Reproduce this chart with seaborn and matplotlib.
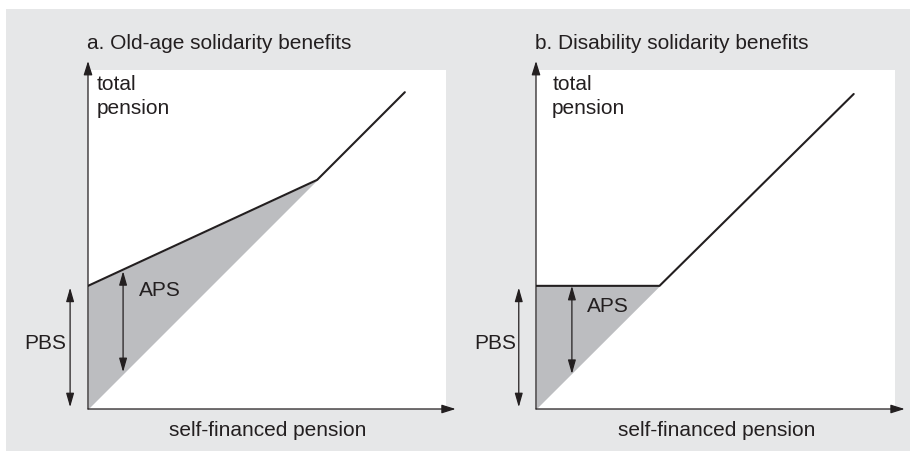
import matplotlib
matplotlib.use("Agg")
import matplotlib.pyplot as plt
import matplotlib.patches as mpatches
import seaborn as sns

# data (units: same scale on both axes)
pbs = 3.44
old_x = [0, 6.4, 8.85]
old_y = [pbs, 6.4, 8.85]
dis_x = [0, 3.44, 8.85]
dis_y = [pbs, pbs, 8.8]
titles = ["a. Old-age solidarity benefits", "b. Disability solidarity benefits"]

sns.set_theme(style="white")
plt.rcParams['font.family'] = ['Liberation Sans', 'DejaVu Sans']
plt.rcParams['text.color'] = "#231f20"

fig = plt.figure(figsize=(9.1, 4.52), dpi=100)
fig.patches.append(mpatches.Rectangle((6 / 910, 0), 904 / 910, 442 / 452,
                                      transform=fig.transFigure, facecolor="#e6e7e8",
                                      edgecolor="none", zorder=-10))

ax_a = fig.add_axes([88 / 910, 42 / 452, 358 / 910, 339 / 452])
ax_b = fig.add_axes([536 / 910, 42 / 452, 359 / 910, 339 / 452])

shade = "#bcbdc0"
ink = "#231f20"
fs = 15


def setup(ax, title, tot_x, aps_x, aps_top, aps_bot, aps_txt_y, pbs_txt_x, pbs_arr_x):
    ax.set_xlim(0, 10)
    ax.set_ylim(0, 9.47)
    ax.set_facecolor("white")
    for s in ax.spines.values():
        s.set_visible(False)
    ax.set_xticks([])
    ax.set_yticks([])
    axis_arrow = dict(arrowstyle="-|>,head_length=0.7,head_width=0.22", color=ink,
                      lw=0.9, shrinkA=0, shrinkB=0)
    ax.annotate("", xy=(0, 9.72), xytext=(0, 0), arrowprops=axis_arrow, annotation_clip=False)
    ax.annotate("", xy=(10.27, 0), xytext=(0, 0), arrowprops=axis_arrow, annotation_clip=False)
    dbl = dict(arrowstyle="<|-|>,head_length=0.7,head_width=0.2", color=ink,
               lw=0.9, shrinkA=0, shrinkB=0)
    ax.annotate("", xy=(pbs_arr_x, 0.05), xytext=(pbs_arr_x, pbs - 0.05), arrowprops=dbl,
                annotation_clip=False)
    ax.annotate("", xy=(aps_x, aps_bot), xytext=(aps_x, aps_top), arrowprops=dbl,
                annotation_clip=False)
    ax.text(-0.03, 10.25, title, fontsize=fs, ha="left", va="center", clip_on=False)
    ax.text(tot_x, 9.36, "total\npension", fontsize=fs, ha="left", va="top", linespacing=1.35)
    ax.text(1.42, aps_txt_y, "APS", fontsize=fs, ha="left", va="center")
    ax.text(pbs_txt_x, 1.87, "PBS", fontsize=fs, ha="right", va="center", clip_on=False)
    ax.text(5.03, -0.56, "self-financed pension", fontsize=fs, ha="center", va="center",
            clip_on=False)


# panel a
ax_a.fill_between([0, old_x[1]], [0, old_x[1]], [old_y[0], old_y[1]], color=shade, lw=0)
sns.lineplot(x=old_x, y=old_y, ax=ax_a, color=ink, lw=1.5, sort=False)
setup(ax_a, titles[0], 0.25, 0.98, 3.85, 1.03, 3.35, -0.61, -0.5)

# panel b
ax_b.fill_between([0, dis_x[1]], [0, dis_x[1]], [dis_y[0], dis_y[1]], color=shade, lw=0)
sns.lineplot(x=dis_x, y=dis_y, ax=ax_b, color=ink, lw=1.5, sort=False)
setup(ax_b, titles[1], 0.45, 1.0, pbs, 0.98, 2.9, -0.56, -0.48)

fig.savefig("out.png", dpi=100, facecolor="white")
